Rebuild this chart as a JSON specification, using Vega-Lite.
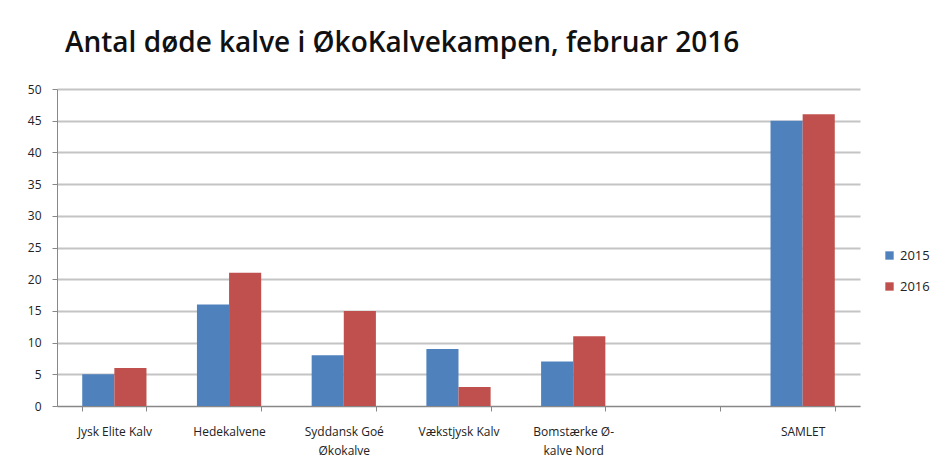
{
  "$schema": "https://vega.github.io/schema/vega-lite/v6.json",
  "width": 803,
  "height": 317,
  "autosize": {"type": "none"},
  "padding": {"left": 57, "top": 89, "right": 89, "bottom": 62},
  "background": "white",
  "title": {
    "text": "Antal døde kalve i ØkoKalvekampen, februar 2016",
    "anchor": "start",
    "frame": "group",
    "dx": 8,
    "offset": 25,
    "font": "Open Sans",
    "fontSize": 28,
    "fontWeight": 600,
    "color": "#111"
  },
  "data": {
    "values": [
      {"kategori": "Jysk Elite Kalv", "aar": "2015", "antal": 5},
      {"kategori": "Jysk Elite Kalv", "aar": "2016", "antal": 6},
      {"kategori": "Hedekalvene", "aar": "2015", "antal": 16},
      {"kategori": "Hedekalvene", "aar": "2016", "antal": 21},
      {"kategori": "Syddansk Goé Økokalve", "aar": "2015", "antal": 8},
      {"kategori": "Syddansk Goé Økokalve", "aar": "2016", "antal": 15},
      {"kategori": "Vækstjysk Kalv", "aar": "2015", "antal": 9},
      {"kategori": "Vækstjysk Kalv", "aar": "2016", "antal": 3},
      {"kategori": "Bomstærke Ø-kalve Nord", "aar": "2015", "antal": 7},
      {"kategori": "Bomstærke Ø-kalve Nord", "aar": "2016", "antal": 11},
      {"kategori": "SAMLET", "aar": "2015", "antal": 45},
      {"kategori": "SAMLET", "aar": "2016", "antal": 46}
    ]
  },
  "mark": {"type": "bar"},
  "encoding": {
    "x": {
      "field": "kategori",
      "type": "nominal",
      "scale": {
        "domain": ["Jysk Elite Kalv", "Hedekalvene", "Syddansk Goé Økokalve", "Vækstjysk Kalv", "Bomstærke Ø-kalve Nord", " ", "SAMLET"],
        "paddingInner": 0.44,
        "paddingOuter": 0.22
      },
      "axis": {
        "title": null,
        "labelAngle": 0,
        "labelFont": "Open Sans",
        "labelFontSize": 12,
        "labelColor": "#222",
        "labelPadding": 15,
        "tickBand": "extent",
        "tickSize": 5,
        "tickColor": "#888",
        "domainColor": "#888",
        "labelExpr": "datum.value == 'Syddansk Goé Økokalve' ? ['Syddansk Goé', 'Økokalve'] : datum.value == 'Bomstærke Ø-kalve Nord' ? ['Bomstærke Ø-', 'kalve Nord'] : datum.value",
        "labelLineHeight": 19
      }
    },
    "xOffset": {"field": "aar", "type": "nominal", "scale": {"paddingInner": 0}},
    "y": {
      "field": "antal",
      "type": "quantitative",
      "scale": {"domain": [0, 50]},
      "axis": {
        "title": null,
        "values": [0, 5, 10, 15, 20, 25, 30, 35, 40, 45, 50],
        "labelFont": "Open Sans",
        "labelFontSize": 12,
        "labelColor": "#222",
        "labelPadding": 11,
        "tickSize": 5,
        "tickColor": "#888",
        "domainColor": "#888",
        "gridColor": "#c4c4c4",
        "gridWidth": 1.8
      }
    },
    "color": {
      "field": "aar",
      "type": "nominal",
      "scale": {"domain": ["2015", "2016"], "range": ["#4F81BD", "#C0504D"]},
      "legend": {
        "title": null,
        "orient": "none",
        "legendX": 826,
        "legendY": 160,
        "symbolType": "square",
        "symbolSize": 70,
        "labelFont": "Open Sans",
        "labelFontSize": 13,
        "labelColor": "#222",
        "rowPadding": 17
      }
    }
  },
  "config": {
    "view": {"stroke": null}
  }
}
